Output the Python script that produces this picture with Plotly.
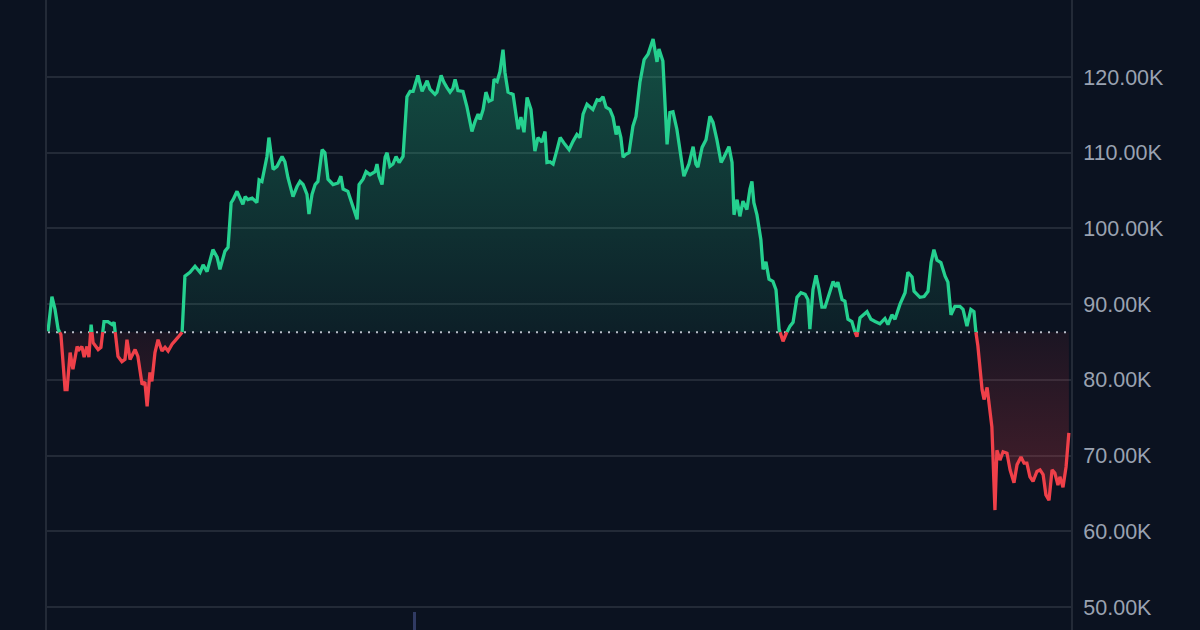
import plotly.graph_objects as go

# ---------------- data (price in thousands USD, time in days) ----------------
days = [
    0.0, 1.4, 2.5, 3.6, 4.6, 6.1, 6.8, 7.9, 8.9, 10.4, 11.1, 12.1, 12.9, 13.9, 14.6, 15.4, 16.1, 17.9, 18.9, 20.0,
    21.4, 22.9, 23.6, 25.0, 26.4, 27.5, 28.2, 29.3, 31.1, 32.1, 33.6, 34.6, 35.4, 36.4, 37.1, 38.2, 39.3, 40.7, 41.8, 42.9,
    44.3, 45.4, 46.4, 47.9,
    48.9, 50.7, 52.5, 54.3, 55.4, 56.8, 58.9, 60.4, 61.4, 63.2, 64.3, 65.4, 66.1, 67.5, 68.6, 69.6, 70.4, 71.4, 72.9, 74.6,
    75.4, 76.4, 78.2, 78.9, 80.4, 81.8, 83.6, 84.6, 85.7, 87.5, 88.9, 90.0, 91.1, 92.5, 93.2, 94.3, 95.4, 96.4, 97.9, 98.9,
    100.0, 101.8, 103.6, 104.6, 105.4, 107.1,
    108.9, 110.4, 111.1, 112.5, 113.6, 115.0, 116.8, 117.5, 118.2, 119.3, 120.4, 121.1, 122.1, 123.2, 124.3, 125.4, 126.8,
    128.2, 129.3, 130.4, 132.1, 133.6, 135.4, 136.4, 138.2, 138.9, 140.4, 141.4, 142.5, 143.6, 144.6, 145.4, 146.4, 148.2,
    149.6, 151.1, 151.4, 152.5, 153.6, 154.3, 155.4, 156.4, 157.5, 158.6, 159.3, 160.4, 161.4, 162.5, 163.2, 164.3, 166.1,
    167.9, 168.9, 170.0, 171.1, 172.5, 173.9, 175.0, 176.4, 177.5, 178.2, 179.3, 180.4, 181.8, 182.9, 184.6, 186.1, 187.5,
    188.9, 190.0, 191.1, 192.5, 193.6, 194.6, 196.1, 197.1, 198.2, 199.3, 200.7, 201.8, 202.9, 203.6, 204.6, 205.4, 206.4,
    207.5, 208.9, 210.0, 211.4, 212.9, 214.3, 216.1, 217.5, 218.2, 219.6, 221.1, 222.1, 223.2, 224.6, 225.7,
    227.1, 228.9, 230.4, 231.4, 232.1, 233.6, 235.0, 236.4, 237.5, 238.9, 240.4, 241.4, 243.2, 244.3, 245.0, 246.1, 247.1,
    248.2, 249.6, 250.7, 251.4, 252.1, 253.2, 254.6, 255.4, 256.4, 257.5, 258.9, 260.0, 261.1, 262.5, 263.9, 265.0, 266.1,
    267.5, 268.9, 270.4, 271.4, 272.1, 273.2, 274.3, 275.4, 276.4, 277.5, 278.6, 280.4, 281.4, 282.1, 283.6, 284.6, 285.7,
    287.1, 288.2, 288.9,
    290.0, 292.5, 293.9, 295.4, 297.1, 298.9, 300.0, 301.4, 302.5, 304.3, 306.1, 307.1, 308.6, 309.3, 311.4, 312.9, 314.3,
    315.4, 316.4, 317.5, 318.9, 320.4, 321.4, 322.5, 323.9, 325.7, 326.8, 328.2, 329.6, 330.7, 331.4, 332.1, 333.6, 334.3,
    335.4, 336.1, 337.1, 338.2, 338.9, 340.0, 341.1, 342.5, 343.6, 345.0, 346.1, 347.5, 348.6, 349.6, 350.7, 351.8, 353.2,
    354.3, 355.4, 356.4, 357.5, 358.6, 359.6, 360.7, 361.4, 362.5, 363.6, 364.6,
]

price_k = [
    86.4, 91.0, 89.3, 86.7, 86.0, 78.7, 78.7, 83.6, 81.4, 84.4, 84.0, 84.4, 83.0, 84.4, 83.0, 87.3, 84.9, 84.0, 84.3, 87.7,
    87.7, 87.3, 87.6, 83.1, 82.4, 82.7, 85.3, 82.7, 84.0, 83.1, 79.4, 79.7, 76.5, 81.0, 79.8, 83.6, 85.3, 83.8, 84.3, 83.8,
    84.7, 85.1, 85.6, 86.3,
    93.7, 94.2, 95.0, 94.2, 95.2, 94.3, 97.2, 96.2, 94.6, 97.0, 97.5, 103.4, 103.8, 104.9, 104.1, 103.2, 104.2, 103.8, 104.0,
    103.4, 106.4, 106.2, 109.5, 112.0, 107.8, 108.2, 109.5, 108.8, 106.7, 104.2, 105.5, 106.2, 105.8, 104.5, 101.9, 104.5,
    105.8, 106.2, 110.4, 110.0, 106.5, 105.8, 106.0, 106.9, 105.2, 104.9,
    102.9, 101.2, 105.8, 106.5, 107.5, 107.1, 107.5, 108.5, 106.9, 105.8, 109.4, 110.0, 108.2, 108.5, 109.5, 108.7, 109.5,
    117.4, 118.1, 118.1, 120.2, 118.1, 119.5, 118.4, 117.7, 118.0, 120.2, 119.3, 118.6, 118.0, 118.5, 119.7, 118.2, 118.1,
    116.1, 113.1, 112.8, 114.1, 115.1, 114.4, 115.7, 118.0, 116.8, 117.0, 119.7, 119.4, 120.7, 123.6, 120.6, 118.0, 117.7,
    113.1, 114.7, 112.7, 117.3, 115.7, 110.2, 112.0, 111.4, 112.8, 108.7, 108.8, 108.5, 110.4, 112.0, 111.1, 110.4, 111.5,
    112.4, 112.0, 115.1, 116.4, 116.1, 115.7, 117.0, 116.9, 117.4, 116.0, 115.7, 114.7, 112.4, 113.5, 112.0, 109.4, 109.8,
    110.0, 113.5, 114.8, 119.3, 122.3, 123.0, 125.0, 122.0, 123.7, 122.1, 111.1, 115.3, 115.4, 113.1, 110.4,
    106.9, 108.5, 110.8, 108.5, 108.1, 110.7, 111.7, 114.8, 114.0, 111.7, 108.7, 109.4, 110.8, 108.7, 101.8, 103.8, 101.6,
    103.6, 102.5, 105.2, 106.2, 103.4, 101.8, 98.5, 94.6, 95.6, 93.3, 93.0, 91.9, 86.7, 85.1, 86.3, 87.1, 87.6, 90.9, 91.5,
    91.3, 90.6, 86.7, 91.9, 93.8, 91.9, 89.6, 89.6, 90.9, 93.0, 92.3, 92.9, 90.6, 90.4, 88.0, 87.7, 86.3, 85.7,
    88.2, 89.0, 88.0, 87.7, 87.4, 88.1, 87.3, 88.6, 88.0, 90.0, 91.5, 94.2, 93.6, 91.7, 90.9, 91.0, 91.7, 95.5, 97.2, 95.8,
    95.5, 93.7, 92.9, 88.6, 89.7, 89.7, 89.3, 87.1, 89.3, 89.0, 86.3, 84.5, 78.7, 77.4, 79.0, 77.0, 73.8, 62.8, 70.7, 69.4,
    70.5, 70.3, 68.1, 66.4, 68.8, 69.8, 69.0, 69.0, 67.2, 66.6, 67.9, 68.1, 67.5, 64.8, 64.1, 68.1, 67.7, 66.1, 67.2, 65.8,
    68.5, 73.0,
]

baseline_k = 86.3                      # reference (opening) price
y_ticks = [50, 60, 70, 80, 90, 100, 110, 120]
y_tick_labels = ["50.00K", "60.00K", "70.00K", "80.00K", "90.00K", "100.00K", "110.00K", "120.00K"]
x_tick_days = [131]                    # lone x-axis tick visible at the bottom

# ---------------- styling ----------------
BG = "#0b1220"
GRID = "#232a37"
GREEN = "#25d08f"
RED = "#ef4049"
LABEL = "#9aa2b1"

# ---------------- split series at the baseline ----------------
xs, ys = [], []
for i in range(len(days)):
    if i > 0:
        y0, y1 = price_k[i - 1], price_k[i]
        if (y0 - baseline_k) * (y1 - baseline_k) < 0:
            t = (baseline_k - y0) / (y1 - y0)
            xs.append(days[i - 1] + t * (days[i] - days[i - 1]))
            ys.append(baseline_k)
    xs.append(days[i])
    ys.append(price_k[i])

green_line = [y if y >= baseline_k else None for y in ys]
red_line = [y if y <= baseline_k else None for y in ys]
up_fill = [max(y, baseline_k) for y in ys]
dn_fill = [min(y, baseline_k) for y in ys]
base_arr = [baseline_k] * len(xs)

fig = go.Figure()

fig.add_trace(go.Scatter(x=xs, y=base_arr, mode="lines", line=dict(width=0), hoverinfo="skip"))
fig.add_trace(go.Scatter(
    x=xs, y=up_fill, mode="lines", line=dict(width=0), fill="tonexty",
    fillgradient=dict(type="vertical",
                      colorscale=[[0, "rgba(37,208,143,0.07)"], [1, "rgba(37,208,143,0.32)"]],
                      start=baseline_k, stop=max(price_k)),
    hoverinfo="skip"))
fig.add_trace(go.Scatter(x=xs, y=base_arr, mode="lines", line=dict(width=0), hoverinfo="skip"))
fig.add_trace(go.Scatter(
    x=xs, y=dn_fill, mode="lines", line=dict(width=0), fill="tonexty",
    fillgradient=dict(type="vertical",
                      colorscale=[[0, "rgba(239,64,73,0.27)"], [1, "rgba(239,64,73,0.07)"]],
                      start=min(price_k), stop=baseline_k),
    hoverinfo="skip"))

# dotted baseline
fig.add_trace(go.Scatter(
    x=[days[0], 365.36], y=[baseline_k, baseline_k], mode="lines",
    line=dict(color="rgba(215,220,230,0.85)", width=2, dash="2px,6px"), hoverinfo="skip"))

fig.add_trace(go.Scatter(x=xs, y=green_line, mode="lines",
                         line=dict(color=GREEN, width=3.3), connectgaps=False))
fig.add_trace(go.Scatter(x=xs, y=red_line, mode="lines",
                         line=dict(color=RED, width=3.3), connectgaps=False))

fig.update_layout(
    width=1200, height=630,
    margin=dict(l=47, r=129, t=0, b=0),
    paper_bgcolor=BG, plot_bgcolor=BG,
    showlegend=False,
    xaxis=dict(range=[-0.36, 365.36], showgrid=False, zeroline=False, showline=False,
               showticklabels=False, tickvals=x_tick_days, ticks="inside", ticklen=18,
               tickwidth=3, tickcolor="rgba(62,72,120,0.75)", fixedrange=True),
    yaxis=dict(side="right", range=[46.96, 130.17], tickvals=y_ticks, ticktext=y_tick_labels,
               showgrid=True, gridcolor=GRID, gridwidth=2, zeroline=False,
               showline=True, mirror=True, linecolor=GRID, linewidth=2,
               ticks="", ticklabelstandoff=6,
               tickfont=dict(family="Liberation Sans, Arial, sans-serif", size=21.5, color=LABEL),
               fixedrange=True),
)

fig.write_html("out.html", config={"displayModeBar": False},
               post_script="document.body.style.margin='0px';document.body.style.overflow='hidden';")
